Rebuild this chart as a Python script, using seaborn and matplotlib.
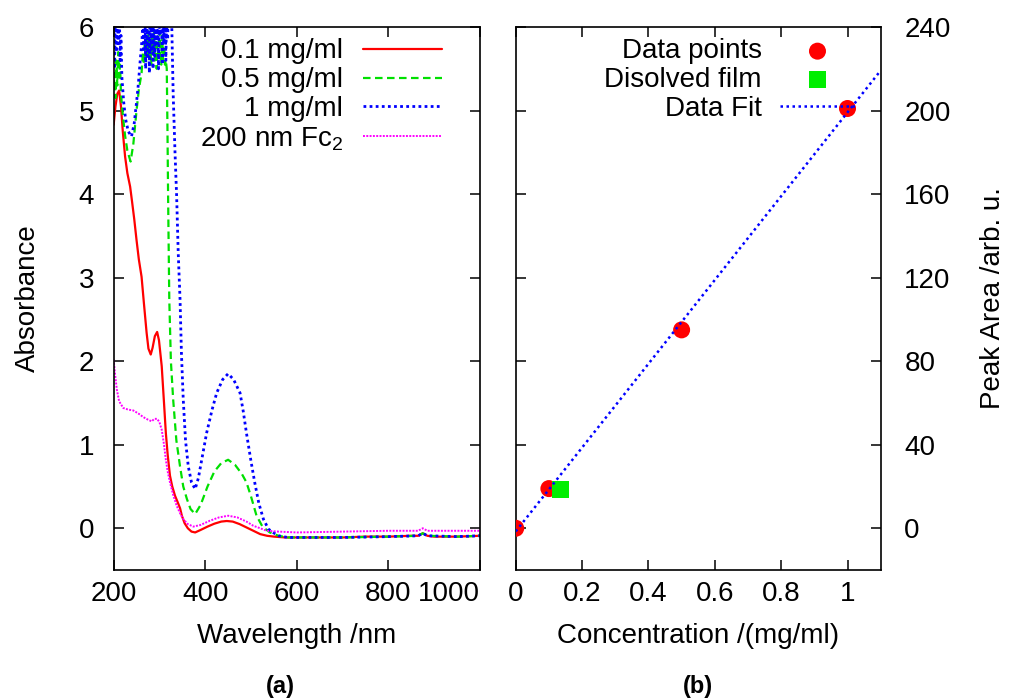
import numpy as np
import pandas as pd
import matplotlib
matplotlib.use("Agg")
import matplotlib.pyplot as plt
import seaborn as sns

# ---------------- (a) absorption spectra ----------------
wl_01 = [200, 204, 208, 212, 216, 220, 225, 230, 236, 240, 245, 250, 255, 261, 266,
         272, 276, 281, 285, 290, 295, 299, 305, 310, 314, 318, 323, 328, 334, 340,
         345, 349, 355, 362, 370, 378, 390, 405, 420, 435, 447, 460, 475, 490, 505,
         520, 535, 550, 575, 600, 650, 700, 750, 800, 850, 865, 875, 885, 900, 950, 1000]
abs_01 = [4.83, 5.05, 5.20, 5.24, 5.05, 4.75, 4.45, 4.25, 4.09, 3.92, 3.70, 3.45, 3.22, 3.01, 2.70,
          2.34, 2.15, 2.08, 2.16, 2.30, 2.35, 2.25, 1.94, 1.50, 1.14, 0.88, 0.63, 0.50, 0.39, 0.31,
          0.24, 0.15, 0.06, 0.00, -0.04, -0.05, -0.02, 0.02, 0.055, 0.08, 0.087, 0.08, 0.05, 0.01, -0.03,
          -0.07, -0.09, -0.10, -0.11, -0.11, -0.11, -0.11, -0.10, -0.10, -0.09, -0.09, -0.06, -0.09, -0.10, -0.10, -0.09]

wl_05 = [200, 202, 204, 206, 208, 210, 212, 214, 216, 220, 225, 230, 237, 243, 250,
         255, 261, 264, 266, 268, 270, 272, 274, 276, 278, 280, 282, 284, 286, 288,
         290, 292, 294, 296, 298, 300, 302, 304, 306, 308, 310, 312, 314, 316, 317.5,
         319, 321.5, 325, 330, 337, 345, 352, 360, 368, 378, 390, 405, 420, 435, 450,
         465, 480, 490, 500, 512, 525, 541, 560, 580, 600, 700, 800, 865, 875, 885, 950, 1000]
abs_05 = [5.28, 5.45, 5.15, 5.60, 5.30, 5.70, 5.40, 5.55, 5.20, 4.95, 4.70, 4.52, 4.39, 4.60, 5.00,
          5.25, 5.45, 5.70, 5.55, 5.85, 5.60, 5.90, 5.65, 5.95, 5.60, 5.80, 5.55, 5.90, 5.70, 5.95,
          5.60, 5.85, 5.50, 5.80, 5.60, 5.95, 5.70, 5.55, 5.90, 5.60, 5.85, 5.55, 5.60, 5.50, 4.80,
          3.93, 2.74, 2.00, 1.54, 1.05, 0.74, 0.50, 0.35, 0.23, 0.17, 0.28, 0.50, 0.68, 0.78, 0.82,
          0.76, 0.65, 0.55, 0.38, 0.15, 0.02, -0.05, -0.09, -0.11, -0.11, -0.11, -0.10, -0.09, -0.06, -0.09, -0.10, -0.09]

wl_1 = [200, 202, 204, 206, 208, 210, 212, 214, 216, 218, 222, 226, 232, 239, 245,
        250, 254, 258, 262, 264, 266, 268, 270, 272, 274, 276, 278, 280, 282, 284,
        286, 288, 290, 292, 294, 296, 298, 300, 302, 304, 306, 308, 310, 312, 314,
        316, 318, 320, 322, 324, 327, 330, 334, 337.6, 341, 345, 348, 352, 357, 363,
        370, 378, 385, 395, 403, 415, 425, 438, 450, 462, 476, 483, 490, 500, 508,
        517, 527, 538, 548, 560, 580, 600, 700, 800, 865, 875, 885, 950, 1000]
abs_1 = [5.84, 5.50, 6.30, 5.70, 6.50, 5.80, 6.40, 5.60, 5.90, 5.40, 5.10, 4.90, 4.75, 4.69, 4.85,
         5.10, 5.32, 5.60, 5.85, 6.10, 5.70, 6.30, 5.50, 6.40, 5.65, 6.30, 5.45, 6.50, 5.70, 6.30,
         5.50, 6.40, 5.65, 6.30, 5.80, 6.50, 5.50, 6.30, 5.90, 6.40, 5.55, 6.30, 5.80, 6.50, 5.60,
         6.30, 5.85, 6.40, 6.00, 6.30, 6.00, 5.20, 4.50, 3.97, 3.30, 2.74, 2.10, 1.54, 1.05, 0.74,
         0.55, 0.47, 0.60, 0.90, 1.14, 1.42, 1.62, 1.78, 1.85, 1.78, 1.62, 1.40, 1.14, 0.80, 0.55,
         0.30, 0.11, -0.01, -0.05, -0.09, -0.11, -0.11, -0.11, -0.10, -0.09, -0.06, -0.09, -0.10, -0.09]

wl_fc = [200, 203, 207, 212, 221, 232, 243, 255, 265, 275, 283, 289, 295, 300, 305,
         310, 314, 318, 323, 330, 337.6, 345, 352, 362, 374, 390, 410, 430, 450, 470,
         490, 505, 520, 534, 560, 600, 700, 800, 865, 875, 885, 1000]
abs_fc = [2.02, 1.85, 1.66, 1.52, 1.44, 1.42, 1.41, 1.37, 1.33, 1.30, 1.28, 1.31, 1.31, 1.27, 1.18,
          1.00, 0.82, 0.68, 0.55, 0.40, 0.27, 0.18, 0.11, 0.05, 0.02, 0.04, 0.09, 0.13, 0.15, 0.13,
          0.08, 0.03, 0.00, -0.03, -0.04, -0.05, -0.04, -0.03, -0.03, 0.00, -0.03, -0.03]

spectra = [
    ("0.1 mg/ml", wl_01, abs_01, "#ff0000", "-", 1.6),
    ("0.5 mg/ml", wl_05, abs_05, "#00e000", (0, (3.4, 2.0)), 1.6),
    ("1 mg/ml", wl_1, abs_1, "#0000ff", (0, (1.0, 1.2)), 2.0),
    ("200 nm Fc$_\\mathregular{2}$", wl_fc, abs_fc, "#ff00ff", (0, (1.0, 0.7)), 1.4),
]

# ---------------- (b) peak area vs concentration ----------------
conc = [0.0, 0.1, 0.5, 1.0]
peak_area = [0.0, 19.0, 95.0, 201.0]
film_conc = [0.134]
film_area = [18.6]

xticks_a = [200, 400, 600, 800, 1000]
yticks_a = [0, 1, 2, 3, 4, 5, 6]
xticks_b = [0, 0.2, 0.4, 0.6, 0.8, 1.0]
xticklabels_b = ["0", "0.2", "0.4", "0.6", "0.8", "1"]
yticks_b = [0, 40, 80, 120, 160, 200, 240]

sns.set_theme(style="ticks")
plt.rcParams["font.family"] = ["Liberation Sans", "DejaVu Sans"]
plt.rcParams["mathtext.fontset"] = "custom"
plt.rcParams["mathtext.rm"] = "Liberation Sans"
plt.rcParams["text.color"] = "black"
plt.rcParams["axes.labelcolor"] = "black"
plt.rcParams["xtick.color"] = "black"
plt.rcParams["ytick.color"] = "black"
plt.rcParams["axes.edgecolor"] = "black"
FS = 20

fig = plt.figure(figsize=(10.11, 6.99), dpi=100)
ax_a = fig.add_axes([0.1124, 0.1845, 0.3624, 0.7768])
ax_b = fig.add_axes([0.5101, 0.1845, 0.3610, 0.7768])

for label, wl, ab, color, ls, lw in spectra:
    df = pd.DataFrame({"wavelength": wl, "absorbance": ab})
    sns.lineplot(data=df, x="wavelength", y="absorbance", ax=ax_a, color=color,
                 linestyle=ls, linewidth=lw, label=label, sort=False, estimator=None)

ax_a.set_xlim(200, 1000)
ax_a.set_ylim(-0.5, 6)
ax_a.set_xticks(xticks_a)
ax_a.set_yticks(yticks_a)
ax_a.set_xticklabels([str(t) for t in xticks_a])
ax_a.get_xticklabels()[-1].set_horizontalalignment("right")
ax_a.set_xlabel("Wavelength /nm", fontsize=FS, color="black")
ax_a.set_ylabel("Absorbance", fontsize=FS, color="black")
ax_a.yaxis.set_label_coords(-0.198, 0.5)
ax_a.xaxis.set_label_coords(0.5, -0.097)
ax_a.tick_params(axis="x", direction="in", length=7, width=1.1, top=True, labelsize=FS, pad=8,
                 colors="black", labelcolor="black")
ax_a.tick_params(axis="y", direction="in", length=7, width=1.1, right=True, labelsize=FS, pad=14,
                 colors="black", labelcolor="black")

h, l = ax_a.get_legend_handles_labels()
ax_a.legend(h, l, loc="upper right", bbox_to_anchor=(0.896, 0.979), frameon=False,
            markerfirst=False, fontsize=FS, handlelength=2.85, handletextpad=0.72,
            labelspacing=0.1, borderpad=0, borderaxespad=0, labelcolor="black")

# fit line from the data points
slope, intercept = np.polyfit(conc, peak_area, 1)
fit_x = np.array([0.0, 1.1])
fit_df = pd.DataFrame({"c": fit_x, "a": slope * fit_x + intercept})

sns.scatterplot(x=conc, y=peak_area, ax=ax_b, color="#ff0000", marker="o", s=150,
                edgecolor="none", label="Data points", zorder=3)
sns.scatterplot(x=film_conc, y=film_area, ax=ax_b, color="#00ee00", marker="s", s=150,
                edgecolor="none", label="Disolved film", zorder=3)
sns.lineplot(data=fit_df, x="c", y="a", ax=ax_b, color="#0000ff", linestyle=(0, (1.0, 1.4)),
             linewidth=1.8, label="Data Fit", zorder=4)

ax_b.set_xlim(0, 1.1)
ax_b.set_ylim(-20, 240)
ax_b.set_xticks(xticks_b)
ax_b.set_xticklabels(xticklabels_b)
ax_b.set_yticks(yticks_b)
ax_b.yaxis.tick_right()
ax_b.yaxis.set_label_position("right")
ax_b.set_xlabel("Concentration /(mg/ml)", fontsize=FS, color="black")
ax_b.set_ylabel("Peak Area /arb. u.", fontsize=FS, color="black")
ax_b.yaxis.set_label_coords(1.272, 0.5)
ax_b.xaxis.set_label_coords(0.5, -0.097)
ax_b.tick_params(axis="x", direction="in", length=7, width=1.1, top=True, labelsize=FS, pad=8,
                 colors="black", labelcolor="black")
ax_b.tick_params(axis="y", direction="in", length=7, width=1.1, left=True, right=True,
                 labelsize=FS, pad=17, colors="black", labelcolor="black")

h, l = ax_b.get_legend_handles_labels()
ax_b.legend(h, l, loc="upper right", bbox_to_anchor=(0.9296, 0.979), frameon=False,
            markerfirst=False, fontsize=FS, handlelength=2.7, handletextpad=0.65,
            labelspacing=0.1, borderpad=0, borderaxespad=0, scatterpoints=1, labelcolor="black")

for ax in (ax_a, ax_b):
    for sp in ax.spines.values():
        sp.set_visible(True)
        sp.set_linewidth(1.2)
        sp.set_color("black")

fig.text(280 / 1011, 1 - 686 / 699, "(a)", ha="center", va="center", fontsize=17, fontweight="bold")
fig.text(698 / 1011, 1 - 686 / 699, "(b)", ha="center", va="center", fontsize=17, fontweight="bold")

fig.savefig("out.png", dpi=100)
